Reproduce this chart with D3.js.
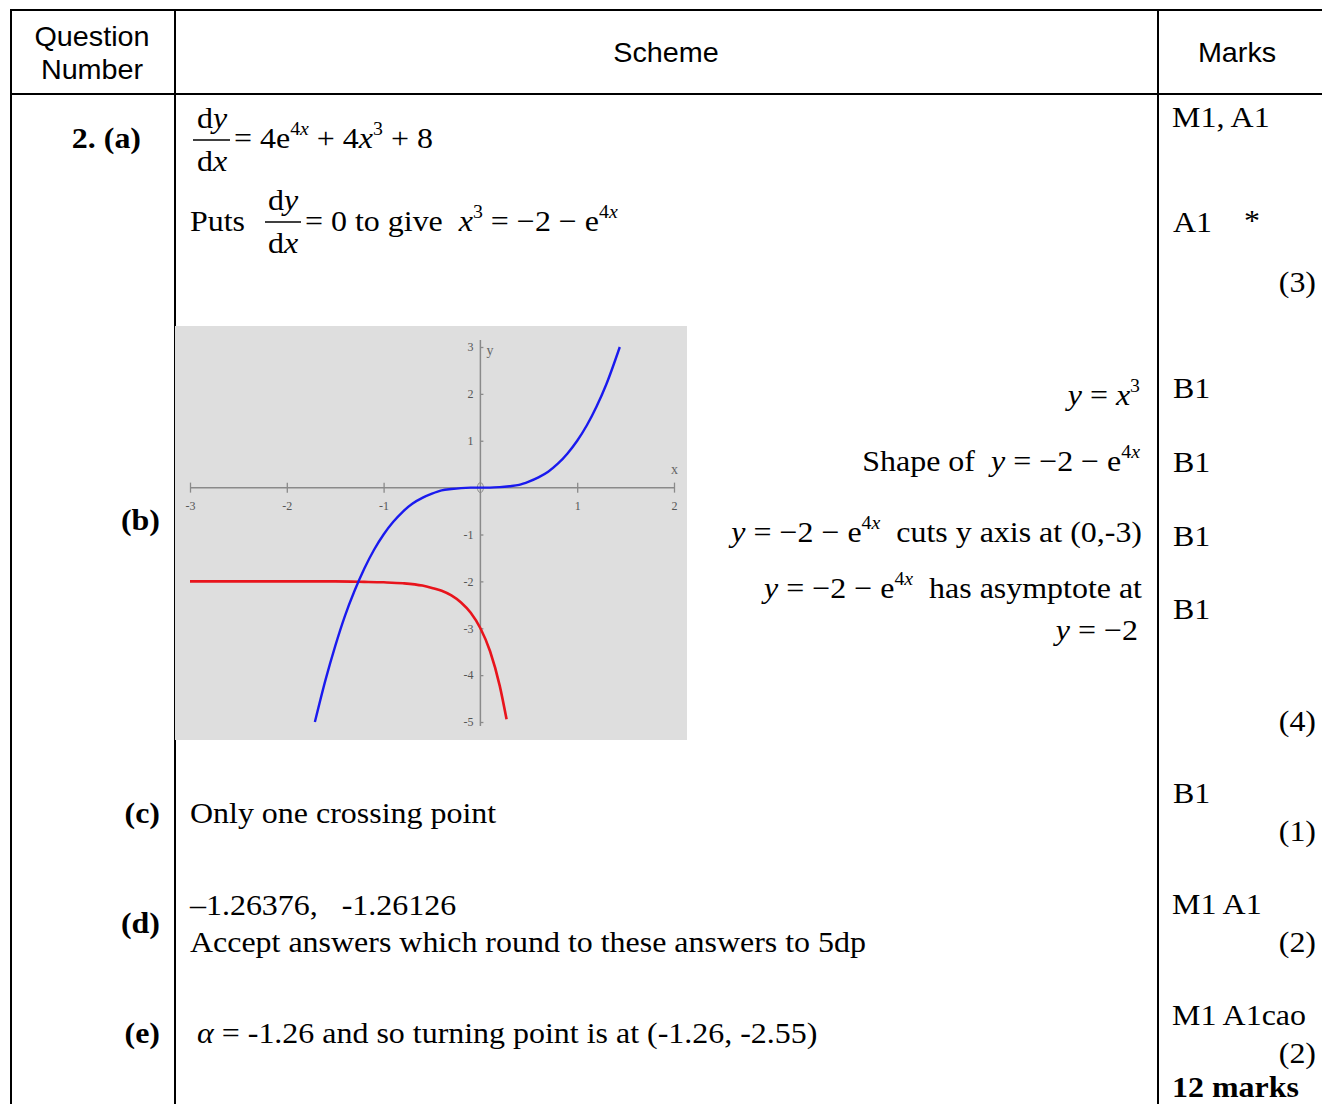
<!DOCTYPE html>
<html>
<head>
<meta charset="utf-8">
<script src="https://cdn.jsdelivr.net/npm/d3@7"></script>
<style>
body { margin: 0; background: #fff; }
text { white-space: pre; }
</style>
</head>
<body>
<svg id="page"></svg>
<script>
// axis ticks of the small plot
var xTicks = [-3, -2, -1, 1, 2];
var yTicks = [-5, -4, -3, -2, -1, 1, 2, 3];

// y = x^3 (blue)
var cubicX = [-1.71, -1.6, -1.5, -1.4, -1.3, -1.2, -1.1, -1.0, -0.9, -0.8, -0.7, -0.6, -0.5, -0.4, -0.3, -0.2, -0.1, 0, 0.1, 0.2, 0.3, 0.4, 0.5, 0.6, 0.7, 0.8, 0.9, 1.0, 1.1, 1.2, 1.3, 1.44];
var cubicY = [-5.0, -4.1, -3.38, -2.74, -2.2, -1.73, -1.33, -1.0, -0.73, -0.51, -0.34, -0.22, -0.13, -0.06, -0.03, -0.01, 0, 0, 0, 0.01, 0.03, 0.06, 0.13, 0.22, 0.34, 0.51, 0.73, 1.0, 1.33, 1.73, 2.2, 3.0];

// y = -2 - e^(4x) (red)
var expX = [-3, -2.5, -2, -1.5, -1.2, -1.0, -0.8, -0.6, -0.5, -0.4, -0.3, -0.2, -0.1, 0, 0.1, 0.2, 0.27];
var expY = [-2.0, -2.0, -2.0, -2.0, -2.01, -2.02, -2.04, -2.09, -2.14, -2.2, -2.3, -2.45, -2.67, -3.0, -3.49, -4.23, -4.94];

var W = 1322, H = 1104;
var serif = "'Liberation Serif', 'Times New Roman', serif";
var sans = "'Liberation Sans', Arial, sans-serif";
var fs = 30;
var sx = 1.065;   // the scan is a bit wider than tall

var svg = d3.select("#page").attr("width", W).attr("height", H);

// ---- table frame ----
var frame = svg.append("g").attr("stroke", "#000").attr("stroke-width", 2);
frame.append("line").attr("x1", 10).attr("x2", W).attr("y1", 10).attr("y2", 10);
frame.append("line").attr("x1", 10).attr("x2", W).attr("y1", 94).attr("y2", 94);
[11, 175, 1158].forEach(function(x){
    frame.append("line").attr("x1", x).attr("x2", x).attr("y1", 9).attr("y2", H);
});

function place(x, y){
    return "translate(" + x + "," + y + ") scale(" + sx + ",1)";
}

function plain(x, y, str, opts){
    opts = opts || {};
    return svg.append("text")
        .attr("transform", place(x, y))
        .attr("font-family", opts.font || serif)
        .attr("font-size", opts.size || fs)
        .attr("font-weight", opts.bold ? "bold" : "normal")
        .attr("text-anchor", opts.anchor || "start")
        .attr("fill", "#000")
        .text(str);
}

// parts: [text, style]  style: i = italic, s = superscript
function math(x, y, parts, anchor){
    var t = svg.append("text")
        .attr("transform", place(x, y))
        .attr("font-family", serif)
        .attr("font-size", fs)
        .attr("text-anchor", anchor || "start");
    var off = 0;
    parts.forEach(function(p){
        var st = p[1] || "";
        var sup = st.indexOf("s") >= 0;
        var target = sup ? -0.42 * fs : 0;
        var sp = t.append("tspan").text(p[0]).attr("dy", target - off);
        off = target;
        if (st.indexOf("i") >= 0) sp.attr("font-style", "italic");
        if (sup) sp.attr("font-size", fs * 0.62);
    });
    return t;
}

function frac(cx, lineY, x1, x2){
    math(cx, lineY - 12, [["d", ""], ["y", "i"]], "middle");
    svg.append("line").attr("x1", x1).attr("x2", x2)
        .attr("y1", lineY).attr("y2", lineY)
        .attr("stroke", "#000").attr("stroke-width", 1.5);
    math(cx, lineY + 31, [["d", ""], ["x", "i"]], "middle");
}

// ---- header ----
plain(92, 46, "Question", {font: sans, size: 27, anchor: "middle"});
plain(92, 79, "Number", {font: sans, size: 27, anchor: "middle"});
plain(666, 62, "Scheme", {font: sans, size: 27, anchor: "middle"});
plain(1237, 62, "Marks", {font: sans, size: 27, anchor: "middle"});

// ---- part labels ----
plain(141, 148, "2. (a)", {bold: true, anchor: "end"});
plain(160, 530, "(b)", {bold: true, anchor: "end"});
plain(160, 823, "(c)", {bold: true, anchor: "end"});
plain(160, 933, "(d)", {bold: true, anchor: "end"});
plain(160, 1043, "(e)", {bold: true, anchor: "end"});

// ---- (a) ----
frac(212, 140, 193, 230);
math(234, 148, [["= 4e", ""], ["4", "s"], ["x", "si"], [" + 4", ""], ["x", "i"], ["3", "s"], [" + 8", ""]]);
plain(190, 231, "Puts");
frac(283, 222, 265, 301);
math(305, 231, [["= 0 to give  ", ""], ["x", "i"], ["3", "s"], [" = −2 − e", ""], ["4", "s"], ["x", "si"]]);

// ---- (b) text ----
math(1140, 405, [["y", "i"], [" = ", ""], ["x", "i"], ["3", "s"]], "end");
math(1140, 471, [["Shape of  ", ""], ["y", "i"], [" = −2 − e", ""], ["4", "s"], ["x", "si"]], "end");
math(1142, 542, [["y", "i"], [" = −2 − e", ""], ["4", "s"], ["x", "si"], ["  cuts y axis at (0,-3)", ""]], "end");
math(1142, 598, [["y", "i"], [" = −2 − e", ""], ["4", "s"], ["x", "si"], ["  has asymptote at", ""]], "end");
math(1138, 640, [["y", "i"], [" = −2", ""]], "end");

// ---- (c) (d) (e) ----
plain(190, 823, "Only one crossing point");
plain(190, 915, "–1.26376,   -1.26126");
plain(190, 952, "Accept answers which round to these answers to 5dp");
math(197, 1043, [["α", "i"], [" = -1.26 and so turning point is at (-1.26, -2.55)", ""]]);

// ---- marks column ----
plain(1172, 127, "M1, A1");
plain(1173, 232, "A1");
plain(1244, 230, "*");
plain(1316, 292, "(3)", {anchor: "end"});
[398, 472, 546, 619].forEach(function(y){ plain(1173, y, "B1"); });
plain(1316, 731, "(4)", {anchor: "end"});
plain(1173, 803, "B1");
plain(1316, 841, "(1)", {anchor: "end"});
plain(1172, 914, "M1 A1");
plain(1316, 952, "(2)", {anchor: "end"});
plain(1172, 1025, "M1 A1cao");
plain(1316, 1063, "(2)", {anchor: "end"});
plain(1172, 1097, "12 marks", {bold: true});

// ---- graph ----
var plot = svg.append("g");
plot.append("rect").attr("x", 175).attr("y", 326).attr("width", 512).attr("height", 414)
    .attr("fill", "#dedede");

var x = d3.scaleLinear().domain([-3, 2]).range([190, 674]);
var y = d3.scaleLinear().domain([-5, 3]).range([722, 347]);
var axisCol = "#8a8a8a";

var xAxis = plot.append("g").attr("transform", "translate(0," + y(0) + ")")
    .call(d3.axisBottom(x).tickValues(xTicks).tickSize(5).tickPadding(9));
var yAxis = plot.append("g").attr("transform", "translate(" + x(0) + ",0)")
    .call(d3.axisLeft(y).tickValues(yTicks).tickSize(4).tickPadding(3));

[xAxis, yAxis].forEach(function(a){
    a.select(".domain").remove();
    a.selectAll(".tick line").attr("stroke", axisCol).attr("stroke-width", 1.3);
    a.selectAll(".tick text").attr("fill", "#555").attr("font-family", serif)
        .attr("font-size", 12).text(function(d){ return d < 0 ? "-" + Math.abs(d) : d; });
});
xAxis.selectAll(".tick line").attr("y1", -5);
yAxis.selectAll(".tick line").attr("x2", 3);

plot.append("line").attr("x1", x(-3)).attr("x2", x(2) + 1).attr("y1", y(0)).attr("y2", y(0))
    .attr("stroke", axisCol).attr("stroke-width", 1.5);
plot.append("line").attr("x1", x(0)).attr("x2", x(0)).attr("y1", y(3) - 7).attr("y2", y(-5) + 4)
    .attr("stroke", axisCol).attr("stroke-width", 1.5);
plot.append("ellipse").attr("cx", x(0)).attr("cy", y(0)).attr("rx", 3).attr("ry", 5)
    .attr("fill", "none").attr("stroke", axisCol).attr("stroke-width", 1);
plot.append("text").attr("x", x(0) + 6).attr("y", y(3) + 8).attr("font-family", serif)
    .attr("font-size", 14).attr("fill", "#666").text("y");
plot.append("text").attr("x", x(2) - 3).attr("y", y(0) - 14).attr("font-family", serif)
    .attr("font-size", 14).attr("fill", "#666").text("x");

var line = d3.line().x(function(d){ return x(d[0]); }).y(function(d){ return y(d[1]); })
    .curve(d3.curveMonotoneX);

plot.append("path").datum(d3.zip(expX, expY))
    .attr("d", line).attr("fill", "none").attr("stroke", "#e8141c").attr("stroke-width", 2.6);
plot.append("path").datum(d3.zip(cubicX, cubicY))
    .attr("d", line).attr("fill", "none").attr("stroke", "#1a1aee").attr("stroke-width", 2.4);
</script>
</body>
</html>
